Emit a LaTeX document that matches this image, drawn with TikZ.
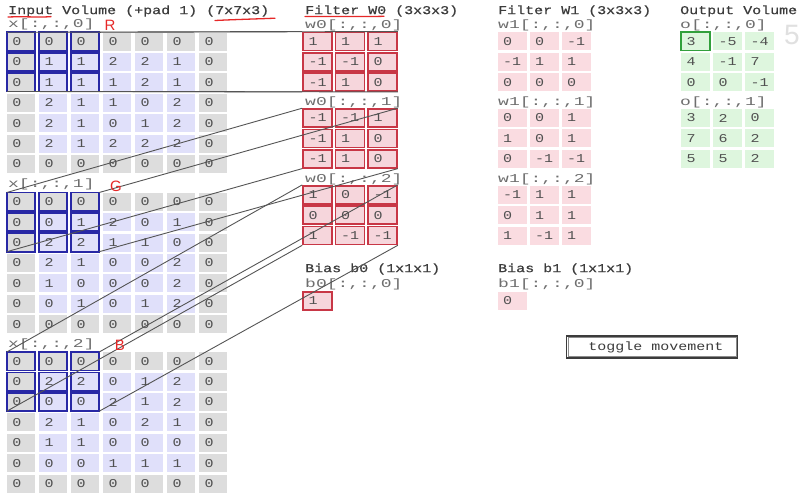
\documentclass[tikz,border=0pt]{standalone}
\usepackage{fontspec}
\newfontfamily\tfont[FakeStretch=1.25]{Liberation Mono}
\newfontfamily\bfont[FakeStretch=1.25,FakeBold=0.6]{Liberation Mono}
\newfontfamily\lfont[FakeStretch=1.5]{Liberation Mono}
\newfontfamily\hfont{Liberation Sans}
\definecolor{padgray}{RGB}{221,221,221}
\definecolor{lav}{RGB}{224,224,250}
\definecolor{winblue}{RGB}{40,40,165}
\definecolor{wpink}{RGB}{246,214,220}
\definecolor{wred}{RGB}{200,55,70}
\definecolor{w1pink}{RGB}{250,220,225}
\definecolor{ogreen}{RGB}{222,246,222}
\definecolor{hgreen}{RGB}{50,160,60}
\definecolor{numtxt}{RGB}{80,80,80}
\definecolor{labtxt}{RGB}{110,110,110}
\definecolor{ttltxt}{RGB}{60,60,60}
\definecolor{conncol}{RGB}{85,85,85}
\definecolor{annred}{RGB}{230,40,40}
\definecolor{btndark}{RGB}{60,60,60}

\newcommand\cellval[2]{\makebox[#1][l]{#2}}

\tikzset{
  cellbase/.style={rectangle, inner xsep=5.5pt, inner ysep=0pt, minimum height=18pt,
    font=\tfont\fontsize{12}{12}\selectfont, text=numtxt},
  incell/.style={cellbase},
  w0cell/.style={cellbase, fill=wpink, draw=wred, line width=1.6pt},
  w1cell/.style={cellbase, fill=w1pink},
  ocell/.style={cellbase, fill=ogreen},
  winline/.style={draw=winblue, line width=1.8pt},
  conn/.style={draw=conncol, line width=0.9pt},
  ttl/.style={anchor=west, inner sep=0pt, font=\bfont\fontsize{12}{12}\selectfont, text=ttltxt},
  lab/.style={anchor=west, inner sep=0pt, font=\lfont\fontsize{12}{12}\selectfont, text=labtxt},
  ann/.style={annred, line width=1.3pt, line cap=round},
  anntext/.style={text=annred, inner sep=0pt, font=\hfont\fontsize{15}{15}\selectfont},
}

\newcommand\drawinput[3]{%
  \foreach \rowv [count=\ri from 0] in {#3} {
    \foreach \val [count=\ci from 0] in \rowv {
      \pgfmathtruncatemacro\pad{(\ri==0)||(\ri==6)||(\ci==0)||(\ci==6)}
      \ifnum\pad=1 \def\fc{padgray}\else\def\fc{lav}\fi
      \node[incell, fill=\fc] (x#1-\ri-\ci) at ({21+32*\ci},{#2+9+20.4*\ri}) {\cellval{17pt}{\val}};
      \pgfmathtruncatemacro\win{(\ri<3)&&(\ci<3)}
      \ifnum\win=1 \draw[winline] (x#1-\ri-\ci.north west) rectangle (x#1-\ri-\ci.south east);\fi
    }
  }
}

\newcommand\drawthree[6]{%
  \foreach \rowv [count=\ri from 0] in {#6} {
    \foreach \val [count=\ci from 0] in \rowv {
      \node[#4] (#1-\ri-\ci) at ({#2+#5*\ci},{#3+9+20.4*\ri}) {\cellval{18pt}{\val}};
    }
  }
}

\begin{document}
\begin{tikzpicture}[x=1pt,y=-1pt]
\useasboundingbox (0,0) rectangle (800,499);
\fill[white] (0,0) rectangle (800,499);

% ---------- titles ----------
\node[ttl] (tin) at (8,11) {Input Volume (+pad 1) (7x7x3)};
\node[ttl] (tw0) at (305,11) {Filter W0 (3x3x3)};
\node[ttl] (tw1) at (498,11) {Filter W1 (3x3x3)};
\node[ttl] (tout) at (680,11) {Output Volume};

% ---------- input volume ----------
\node[lab] (lx0) at (8,24) {x[:,:,0]};
\node[lab] (lx1) at (8,184.5) {x[:,:,1]};
\node[lab] (lx2) at (8,344) {x[:,:,2]};
\drawinput{0}{32.5}{{0,0,0,0,0,0,0},{0,1,1,2,2,1,0},{0,1,1,1,2,1,0},{0,2,1,1,0,2,0},{0,2,1,0,1,2,0},{0,2,1,2,2,2,0},{0,0,0,0,0,0,0}}
\drawinput{1}{192.7}{{0,0,0,0,0,0,0},{0,0,1,2,0,1,0},{0,2,2,1,1,0,0},{0,2,1,0,0,2,0},{0,1,0,0,0,2,0},{0,0,1,0,1,2,0},{0,0,0,0,0,0,0}}
\drawinput{2}{352.2}{{0,0,0,0,0,0,0},{0,2,2,0,1,2,0},{0,0,0,2,1,2,0},{0,2,1,0,2,1,0},{0,1,1,0,0,0,0},{0,0,0,1,1,1,0},{0,0,0,0,0,0,0}}

% ---------- filter W0 ----------
\node[lab] (lw00) at (305,25) {w0[:,:,0]};
\node[lab] (lw01) at (305,102) {w0[:,:,1]};
\node[lab] (lw02) at (305,179) {w0[:,:,2]};
\drawthree{w0-0}{317.5}{32.3}{w0cell}{32.5}{{1,1,1},{-1,-1,0},{-1,1,0}}
\drawthree{w0-1}{317.5}{109}{w0cell}{32.5}{{-1,-1,1},{-1,1,0},{-1,1,0}}
\drawthree{w0-2}{317.5}{185.7}{w0cell}{32.5}{{1,0,-1},{0,0,0},{1,-1,-1}}
\node[ttl] (tb0) at (305,269) {Bias b0 (1x1x1)};
\node[lab] (lb0) at (305,284) {b0[:,:,0]};
\node[w0cell] (b0) at (317.5,301) {\cellval{18pt}{1}};

% ---------- filter W1 ----------
\node[lab] (lw10) at (498,25) {w1[:,:,0]};
\node[lab] (lw11) at (498,102) {w1[:,:,1]};
\node[lab] (lw12) at (498,179) {w1[:,:,2]};
\drawthree{w1-0}{512}{32.3}{w1cell}{32}{{0,0,-1},{-1,1,1},{0,0,0}}
\drawthree{w1-1}{512}{109}{w1cell}{32}{{0,0,1},{1,0,1},{0,-1,-1}}
\drawthree{w1-2}{512}{185.7}{w1cell}{32}{{-1,1,1},{0,1,1},{1,-1,1}}
\node[ttl] (tb1) at (498,269) {Bias b1 (1x1x1)};
\node[lab] (lb1) at (498,284) {b1[:,:,0]};
\node[w1cell] (b1) at (512,301) {\cellval{18pt}{0}};

% ---------- output ----------
\node[lab] (lo0) at (680,25) {o[:,:,0]};
\node[lab] (lo1) at (680,102) {o[:,:,1]};
\drawthree{o-0}{695.5}{32.3}{ocell}{32}{{3,-5,-4},{4,-1,7},{0,0,-1}}
\drawthree{o-1}{695.5}{109}{ocell}{32}{{3,2,0},{7,6,2},{5,5,2}}
\draw[draw=hgreen, line width=1.6pt] (o-0-0-0.north west) rectangle (o-0-0-0.south east);

% ---------- connectors window -> filter slice ----------
\foreach \g in {0,1,2} {
  \draw[conn] (x\g-0-0.north west) -- (w0-\g-0-0.north west);
  \draw[conn] (x\g-0-2.north east) -- (w0-\g-0-2.north east);
  \draw[conn] (x\g-2-0.south west) -- (w0-\g-2-0.south west);
  \draw[conn] (x\g-2-2.south east) -- (w0-\g-2-2.south east);
}

% ---------- toggle button ----------
\node[draw=btndark, line width=1.8pt, minimum width=171pt, minimum height=22pt, inner sep=0pt,
      font=\tfont\fontsize{12}{12}\selectfont, text=ttltxt] (tog) at (652,347) {\hspace{8pt}toggle movement};
\draw[black!45, line width=0.6pt] ([xshift=2.2pt,yshift=-2.2pt]tog.north west) rectangle ([xshift=-2.2pt,yshift=2.2pt]tog.south east);

% ---------- hand annotations ----------
\draw[ann] (8,17) .. controls (25,16.3) and (40,17.6) .. (51,16.6);
\draw[ann] (215,20.5) .. controls (235,19.5) and (255,19) .. (275,18.2);
\draw[ann] (305,16.5) .. controls (330,16.2) and (360,16.8) .. (384,16.3);
\node[anntext] (annR) at (110,25.5) {R};
\node[anntext] (annG) at (116,186) {G};
\node[anntext] (annB) at (120,345) {B};

% ---------- faint watermark ----------
\node[anchor=west, inner sep=0pt, text=black!12, font=\hfont\fontsize{28}{28}\selectfont] (wm) at (784,35) {5};
\end{tikzpicture}
\end{document}
